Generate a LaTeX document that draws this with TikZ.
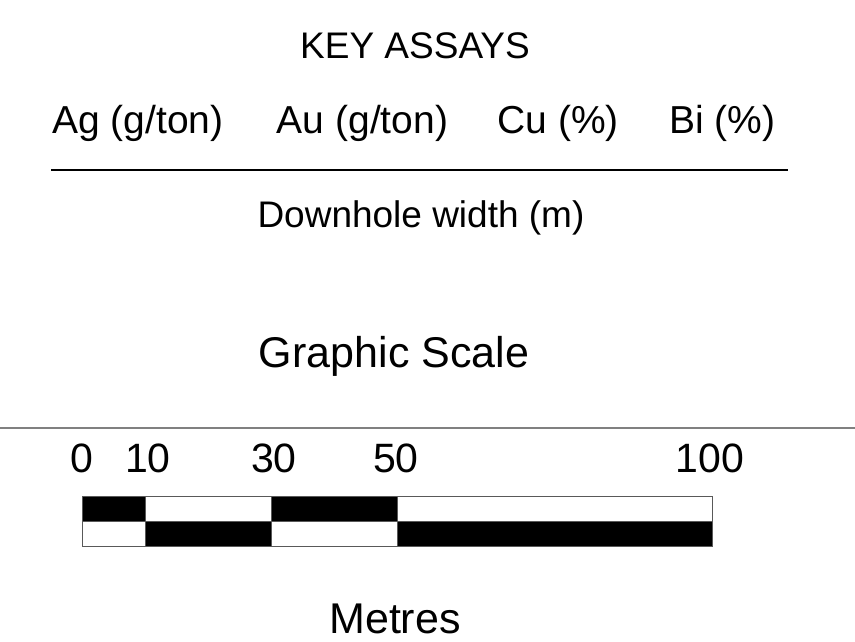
\documentclass[tikz,border=0pt]{standalone}
\usepackage{fontspec}
\setmainfont{Liberation Sans}
\usetikzlibrary{positioning}

\begin{document}
\begin{tikzpicture}[x=1pt, y=-1pt]

	% Styles
	\tikzset{
		title/.style={anchor=base, inner sep=0pt, font=\fontsize{37}{40}\selectfont},
		assay/.style={anchor=base west, inner sep=0pt, font=\fontsize{39}{42}\selectfont},
		note/.style={anchor=base, inner sep=0pt, font=\fontsize{37}{40}\selectfont},
		big/.style={anchor=base, inner sep=0pt, font=\fontsize{43}{46}\selectfont},
		tick/.style={anchor=base, inner sep=0pt, font=\fontsize{41}{44}\selectfont},
		cell/.style={fill=black},
		rule/.style={line width=1.5pt}
	}

	\useasboundingbox (0,0) rectangle (855,642);

	% Key assays
	\node (key) [title] at (415,59) {KEY ASSAYS};
	\node (ag) [assay] at (52,133) {Ag (g/ton)};
	\node (au) [assay, right=53pt of ag] {Au (g/ton)};
	\node (cu) [assay, right=49pt of au] {Cu (\%)};
	\node (bi) [assay, right=50pt of cu] {Bi (\%)};
	\draw[rule] (51,170) -- (788,170);
	\node (width) [note] at (421,227) {Downhole width (m)};

	% Graphic scale
	\node (scale) [big] at (394,367) {Graphic Scale};
	\draw[gray, line width=2pt] (0,427.5) -- (855,427.5);

	% Tick labels
	\node (n0) [tick] at (82,472) {0};
	\node (n10) [tick] at (148,472) {10};
	\node (n30) [tick] at (274,472) {30};
	\node (n50) [tick] at (396,472) {50};
	\node (n100) [tick] at (710,472) {100};

	% Bar
	\fill[cell] (82,496) rectangle (145,521);
	\fill[cell] (271,496) rectangle (397,521);
	\fill[cell] (145,521) rectangle (271,546);
	\fill[cell] (397,521) rectangle (712,546);
	\draw[gray!70!black, line width=0.8pt] (82,496) rectangle (712,546);
	\draw[gray!70!black, line width=0.8pt] (82,521) -- (712,521);
	\draw[gray!70!black, line width=0.8pt] (145,496) -- (145,546);
	\draw[gray!70!black, line width=0.8pt] (271,496) -- (271,546);
	\draw[gray!70!black, line width=0.8pt] (397,496) -- (397,546);

	\node (unit) [big] at (395,633) {Metres};

\end{tikzpicture}
\end{document}
